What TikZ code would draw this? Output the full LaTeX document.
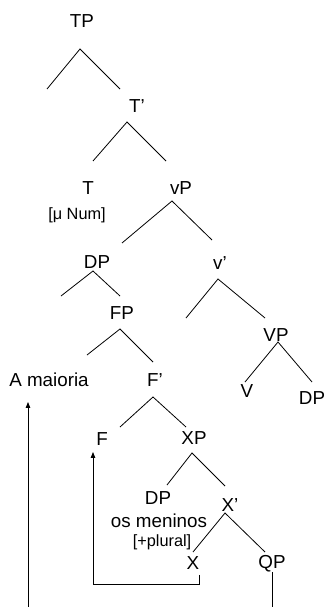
\documentclass[tikz,border=0pt]{standalone}
\usepackage{fontspec}
\setmainfont{Liberation Sans}
\usetikzlibrary{arrows.meta}
\begin{document}
\begin{tikzpicture}[x=1pt,y=-1pt,
  lbl/.style={inner sep=0pt,font=\fontsize{18.8}{20}\selectfont,text height=13.5pt,text depth=0pt},
  feat/.style={inner sep=0pt,font=\fontsize{16.3}{17}\selectfont,text height=11.7pt,text depth=0pt},
  branch/.style={line width=0.8pt},
  mv/.style={line width=0.8pt,-{Triangle[length=6pt,width=4.5pt]}}]
\clip (0,0) rectangle (326,607);

% category labels
\node[lbl] (TP)    at (82,21)  {TP};
\node[lbl] (Tbar)  at (137,106) {T’};
\node[lbl] (T)     at (88,188) {T};
\node[feat] (Tfeat) at (77,213.5) {[μ Num]};
\node[lbl] (vP)    at (181,188) {vP};
\node[lbl] (DPa)   at (97,262) {DP};
\node[lbl] (vbar)  at (220,263) {v’};
\node[lbl] (FP)    at (122,313) {FP};
\node[lbl] (VP)    at (276,335) {VP};
\node[lbl] (maj)   at (49,380) {A maioria};
\node[lbl] (Fbar)  at (155,380) {F’};
\node[lbl] (V)     at (247,391) {V};
\node[lbl] (DPb)   at (312,398) {DP};
\node[lbl] (F)     at (102,439) {F};
\node[lbl] (XP)    at (194,438) {XP};
\node[lbl] (DPc)   at (158,498) {DP};
\node[lbl] (Xbar)  at (230,505) {X’};
\node[lbl] (men)   at (159,521) {os meninos};
\node[feat] (plur) at (162,540.5) {[+plural]};
\node[lbl] (X)     at (193,563) {X};
\node[lbl] (QP)    at (272,562) {QP};

% branching: apex, left foot, right foot
\foreach \n/\ax/\ay/\lx/\ly/\rx/\ry in {
  tp/80/49/47/89/120/89,
  tb/127/122/93/161/166/161,
  vp/172/201/122/243/212/240,
  dpa/93/271/61/296/120/296,
  vb/218/279/186/318/265/318,
  fp/120/329/87/355/153/362,
  vpb/278/342/245/382/312/382,
  fb/153/397/120/427/186/427,
  xp/192/453/167/485/225/486,
  xb/225/513/193/552/265/552}{
  \coordinate (\n-a) at (\ax,\ay);
  \coordinate (\n-l) at (\lx,\ly);
  \coordinate (\n-r) at (\rx,\ry);
  \draw[branch] (\n-l) -- (\n-a) -- (\n-r);
}

% movement paths
\draw[mv] ([yshift=-5pt]X.south east) -- ++(0,9) -| ([xshift=-9pt,yshift=-6pt]F.south);
\draw[mv] ([yshift=-3pt]QP.south) -- ++(0,60) -| ([xshift=-21pt,yshift=-15pt]maj.south);
\end{tikzpicture}
\end{document}
